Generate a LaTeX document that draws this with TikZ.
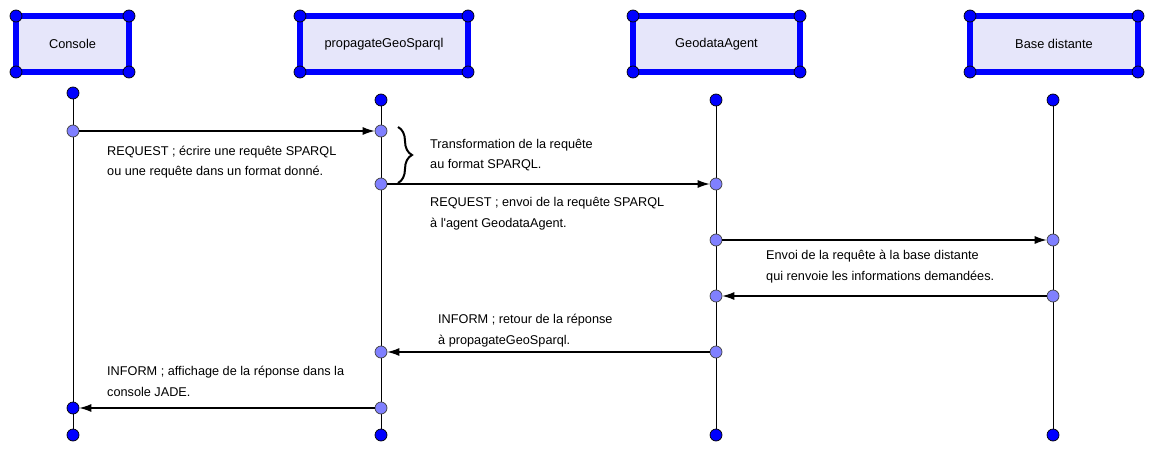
\documentclass[tikz,border=0pt]{standalone}
\usepackage{fontspec}
\setmainfont{Liberation Sans}
\usetikzlibrary{arrows.meta,decorations.pathreplacing}
\definecolor{boxblue}{RGB}{0,0,255}
\definecolor{boxfill}{RGB}{230,230,250}
\definecolor{evfill}{RGB}{128,128,255}
\tikzset{
  actor/.style={draw=boxblue, line width=6pt, fill=boxfill, outer sep=0pt, inner sep=0pt,
    minimum height=56pt, font=\fontsize{12.8}{15}\selectfont},
  corner/.style={circle, draw=black, fill=boxblue, inner sep=0pt, minimum size=12pt, line width=0.7pt},
  enddot/.style={circle, draw=black, fill=boxblue, inner sep=0pt, minimum size=12pt, line width=0.7pt},
  evdot/.style={circle, draw=black!75, fill=evfill, inner sep=0pt, minimum size=12pt, line width=0.7pt},
  life/.style={line width=1pt},
  msg/.style={line width=1.1pt, -{Latex[length=12pt,width=8pt]}},
  lbl/.style={anchor=west, align=left, font=\fontsize{12.7}{20.5}\selectfont, inner sep=0pt}
}
\begin{document}
\begin{tikzpicture}[x=1pt,y=-1pt]
\useasboundingbox (0,0) rectangle (1162,460);
% actor boxes
\node[actor, minimum width=113pt] (console) at (72.5,44) {Console};
\node[actor, minimum width=168pt] (prop) at (384,44) {propagateGeoSparql};
\node[actor, minimum width=167pt] (geo) at (716.5,44) {GeodataAgent};
\node[actor, minimum width=168pt] (base) at (1054,44) {Base distante};
\foreach \b in {console,prop,geo,base}{
  \foreach \a in {north west,north east,south west,south east}{
    \node[corner] at (\b.\a) {};
  }
}
% lifeline ends
\node[enddot] (ct) at (73,93) {};
\node[enddot] (pt) at (381,100) {};
\node[enddot] (gt) at (716,100) {};
\node[enddot] (bt) at (1053,100) {};
\node[enddot] (cb) at (73,435) {};
\node[enddot] (pb) at (381,435) {};
\node[enddot] (gb) at (716,435) {};
\node[enddot] (bb) at (1053,435) {};
% lifelines
\draw[life] (ct) -- (cb);
\draw[life] (pt) -- (pb);
\draw[life] (gt) -- (gb);
\draw[life] (bt) -- (bb);
% events
\node[evdot] (c1) at (73,131) {};
\node[evdot] (p1) at (381,131) {};
\node[evdot] (p2) at (381,184) {};
\node[evdot] (g2) at (716,184) {};
\node[evdot] (g3) at (716,240) {};
\node[evdot] (b3) at (1053,240) {};
\node[evdot] (b4) at (1053,296) {};
\node[evdot] (g4) at (716,296) {};
\node[evdot] (g5) at (716,352) {};
\node[evdot] (p5) at (381,352) {};
\node[evdot] (p6) at (381,408) {};
\node[enddot] (c6) at (73,408) {};
% messages
\draw[msg] (c1) -- (p1);
\draw[msg] (p2) -- (g2);
\draw[msg] (g3) -- (b3);
\draw[msg] (b4) -- (g4);
\draw[msg] (g5) -- (p5);
\draw[msg] (p6) -- (c6);
% brace
\draw[line width=2pt, decorate, decoration={brace, amplitude=14pt, aspect=0.5}]
  ([xshift=17pt,yshift=4pt]p1.center) -- ([xshift=17pt,yshift=1pt]p2.center);
% labels
\node[lbl] (l1) at (107,162) {REQUEST ; écrire une requête SPARQL\\ou une requête dans un format donné.};
\node[lbl] (l2) at (430,155) {Transformation de la requête\\au format SPARQL.};
\node[lbl] (l3) at (430,213.5) {REQUEST ; envoi de la requête SPARQL\\à l\textquotesingle agent GeodataAgent.};
\node[lbl] (l4) at (766,266.5) {Envoi de la requête à la base distante\\qui renvoie les informations demandées.};
\node[lbl] (l5) at (438,330.5) {INFORM ; retour de la réponse\\à propagateGeoSparql.};
\node[lbl] (l6) at (107,381.5) {INFORM ; affichage de la réponse dans la\\console JADE.};
\end{tikzpicture}
\end{document}
